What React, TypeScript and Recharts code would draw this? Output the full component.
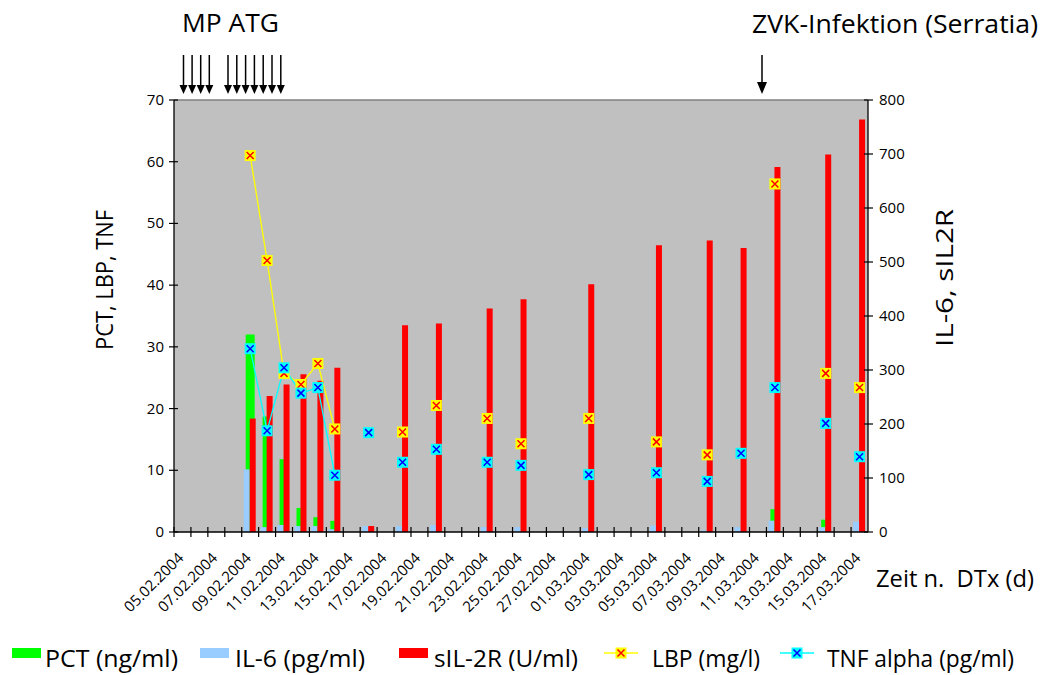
import React from 'react';
import { ComposedChart, Bar, Line, XAxis, YAxis, CartesianGrid, ReferenceLine } from 'recharts';

const dates = [
  '05.02.2004', '06.02.2004', '07.02.2004', '08.02.2004', '09.02.2004', '10.02.2004', '11.02.2004', '12.02.2004', '13.02.2004', '14.02.2004',
  '15.02.2004', '16.02.2004', '17.02.2004', '18.02.2004', '19.02.2004', '20.02.2004', '21.02.2004', '22.02.2004', '23.02.2004', '24.02.2004',
  '25.02.2004', '26.02.2004', '27.02.2004', '28.02.2004', '01.03.2004', '02.03.2004', '03.03.2004', '04.03.2004', '05.03.2004', '06.03.2004',
  '07.03.2004', '08.03.2004', '09.03.2004', '10.03.2004', '11.03.2004', '12.03.2004', '13.03.2004', '14.03.2004', '15.03.2004', '16.03.2004',
  '17.03.2004',
];

// PCT (ng/ml) – left axis
const pct = [
  null, null, null, null, 32, 18.7, 11.8, 3.9, 2.4, 1.8,
  null, null, null, null, null, null, null, null, null, null,
  null, null, null, null, 0.4, null, null, null, null, null,
  null, null, null, null, null, 3.7, null, null, 2.0, null,
  null,
];

// IL-6 (pg/ml) – right axis
const il6 = [
  null, null, null, null, 116, 9, 13, 11, 11, 5,
  null, 11, null, 11, null, 13, null, null, 9, null,
  9, null, null, null, 7, null, null, null, 12, null,
  null, 3, null, 9, null, 21, null, null, 9, null,
  19,
];

// sIL-2R (U/ml) – right axis
const sil2r = [
  null, null, null, null, 210, 252, 273, 292, 280, 304,
  null, 11, null, 383, null, 386, null, null, 414, null,
  431, null, null, null, 459, null, null, null, 531, null,
  null, 540, null, 526, null, 676, null, null, 699, null,
  764,
];

// LBP (mg/l) – left axis
const lbp = [
  null, null, null, null, 61, 44, 25.7, 23.9, 27.3, 16.7,
  null, null, null, 16.2, null, 20.5, null, null, 18.4, null,
  14.3, null, null, null, 18.4, null, null, null, 14.6, null,
  null, 12.5, null, null, null, 56.4, null, null, 25.7, null,
  23.4,
];

// TNF alpha (pg/ml) – left axis
const tnf = [
  null, null, null, null, 29.7, 16.4, 26.6, 22.5, 23.4, 9.2,
  null, 16.1, null, 11.3, null, 13.4, null, null, 11.3, null,
  10.8, null, null, null, 9.3, null, null, null, 9.6, null,
  null, 8.2, null, 12.75, null, 23.4, null, null, 17.6, null,
  12.2,
];

const leftTicks = [0, 10, 20, 30, 40, 50, 60, 70];
const rightTicks = [0, 100, 200, 300, 400, 500, 600, 700, 800];

const W = 1044;
const H = 675;
const PLOT_LEFT = 174;
const PLOT_RIGHT = 868;
const PLOT_TOP = 100;
const PLOT_BOTTOM = 532;
const Y_AXIS_W = 60;
const X_AXIS_H = 20;
const FONT = '"Open Sans", sans-serif';

const data = dates.map((d, i) => ({
  date: d,
  pct: pct[i],
  il6: il6[i],
  sil2r: sil2r[i],
  lbp: lbp[i],
  tnf: tnf[i],
}));

const XTick = (props: any) => {
  const { x, index, payload } = props;
  const band = (PLOT_RIGHT - PLOT_LEFT) / dates.length;
  const y0 = PLOT_BOTTOM;
  const tx = x + 2;
  const ty = y0 + 27;
  return (
    <g>
      <line x1={x - band / 2} x2={x - band / 2} y1={y0 - 5} y2={y0 + 5} stroke="#000" strokeWidth={1.2} />
      {index % 2 === 0 ? (
        <text x={tx} y={ty} transform={`rotate(-45 ${tx} ${ty})`} textAnchor="end" fontSize={15} fontFamily={FONT} fill="#000">
          {payload.value}
        </text>
      ) : null}
    </g>
  );
};

const LTick = (props: any) => {
  const { y, payload } = props;
  return (
    <g>
      <line x1={PLOT_LEFT - 5} x2={PLOT_LEFT + 4} y1={y} y2={y} stroke="#000" strokeWidth={1.2} />
      <text x={PLOT_LEFT - 10} y={y} dy={5} textAnchor="end" fontSize={15} fontFamily={FONT} fill="#000">
        {payload.value}
      </text>
    </g>
  );
};

const RTick = (props: any) => {
  const { y, payload } = props;
  return (
    <g>
      <line x1={PLOT_RIGHT - 4} x2={PLOT_RIGHT + 5} y1={y} y2={y} stroke="#000" strokeWidth={1.2} />
      <text x={PLOT_RIGHT + 11} y={y} dy={5} textAnchor="start" fontSize={15} fontFamily={FONT} fill="#000">
        {payload.value}
      </text>
    </g>
  );
};

const Marker = ({ cx, cy, fill, cross }: { cx: number; cy: number; fill: string; cross: string }) => (
  <g>
    <rect x={cx - 5.5} y={cy - 5.5} width={11} height={11} fill={fill} />
    <path
      d={`M${cx - 3.5},${cy - 3.5}L${cx + 3.5},${cy + 3.5}M${cx + 3.5},${cy - 3.5}L${cx - 3.5},${cy + 3.5}`}
      stroke={cross}
      strokeWidth={1.5}
    />
  </g>
);

const makeDot = (fill: string, cross: string) => (props: any) => {
  const { cx, cy, value, index } = props;
  if (value == null || cx == null || cy == null || Number.isNaN(cy)) return <g key={`d${index}`} />;
  return (
    <g key={`d${index}`}>
      <Marker cx={cx} cy={cy} fill={fill} cross={cross} />
    </g>
  );
};

const Arrow = ({ x, y1, y2, hw, hh }: { x: number; y1: number; y2: number; hw: number; hh: number }) => (
  <g>
    <line x1={x} x2={x} y1={y1} y2={y2 - hh + 1} stroke="#000" strokeWidth={1.5} />
    <polygon points={`${x - hw / 2},${y2 - hh} ${x + hw / 2},${y2 - hh} ${x},${y2}`} fill="#000" />
  </g>
);

const mpArrowsX = [183.5, 192.1, 200.7, 209.3, 228, 236.8, 245.6, 254.4, 263.2, 272, 280.8];

const legendItems = [
  { kind: 'rect', color: '#00FF00', x: 12, label: 'PCT (ng/ml)', tx: 45, len: 133 },
  { kind: 'rect', color: '#99CCFF', x: 200, label: 'IL-6 (pg/ml)', tx: 235, len: 130 },
  { kind: 'rect', color: '#FF0000', x: 399, label: 'sIL-2R (U/ml)', tx: 434, len: 144 },
  { kind: 'line', color: '#FFFF00', cross: '#FF0000', x: 604, label: 'LBP (mg/l)', tx: 652, len: 108 },
  { kind: 'line', color: '#00FFFF', cross: '#0000FF', x: 780, label: 'TNF alpha (pg/ml)', tx: 827, len: 187 },
];

export default function App() {
  return (
    <div style={{ position: 'absolute', left: 0, top: 0, width: W, height: H, background: '#fff' }}>
      <ComposedChart
        width={W}
        height={H}
        data={data}
        barGap={0}
        margin={{
          top: PLOT_TOP,
          left: PLOT_LEFT - Y_AXIS_W,
          right: W - PLOT_RIGHT - Y_AXIS_W,
          bottom: H - PLOT_BOTTOM - X_AXIS_H,
        }}
      >
        <CartesianGrid xAxisId="xa" yAxisId="l" fill="#C0C0C0" horizontal={false} vertical={false} stroke="none" />
        <XAxis
          xAxisId="xa"
          dataKey="date"
          height={X_AXIS_H}
          interval={0}
          tickLine={false}
          axisLine={{ stroke: '#000', strokeWidth: 1.3 }}
          tick={<XTick />}
        />
        <XAxis xAxisId="xb" dataKey="date" hide />
        <YAxis
          yAxisId="l"
          orientation="left"
          width={Y_AXIS_W}
          domain={[0, 70]}
          ticks={leftTicks}
          interval={0}
          tickLine={false}
          axisLine={{ stroke: '#000', strokeWidth: 1.3 }}
          tick={<LTick />}
        />
        <YAxis
          yAxisId="r"
          orientation="right"
          width={Y_AXIS_W}
          domain={[0, 800]}
          ticks={rightTicks}
          interval={0}
          tickLine={false}
          axisLine={{ stroke: '#000', strokeWidth: 1.3 }}
          tick={<RTick />}
        />
        <ReferenceLine xAxisId="xa" yAxisId="l" y={70} stroke="#808080" strokeWidth={1.5} />
        <Bar xAxisId="xb" yAxisId="l" dataKey="pct" name="PCT (ng/ml)" fill="#00FF00" barSize={9} isAnimationActive={false} />
        <Bar xAxisId="xa" yAxisId="r" dataKey="il6" name="IL-6 (pg/ml)" fill="#99CCFF" barSize={6} isAnimationActive={false} />
        <Bar xAxisId="xa" yAxisId="r" dataKey="sil2r" name="sIL-2R (U/ml)" fill="#FF0000" barSize={6} isAnimationActive={false} />
        <Line
          xAxisId="xa"
          yAxisId="l"
          type="linear"
          dataKey="lbp"
          name="LBP (mg/l)"
          stroke="#FFFF00"
          strokeWidth={1.3}
          connectNulls={false}
          dot={makeDot('#FFFF00', '#FF0000')}
          activeDot={false}
          isAnimationActive={false}
        />
        <Line
          xAxisId="xa"
          yAxisId="l"
          type="linear"
          dataKey="tnf"
          name="TNF alpha (pg/ml)"
          stroke="#00FFFF"
          strokeWidth={1.3}
          connectNulls={false}
          dot={makeDot('#00FFFF', '#0000FF')}
          activeDot={false}
          isAnimationActive={false}
        />
      </ComposedChart>
      <svg
        width={W}
        height={H}
        style={{ position: 'absolute', left: 0, top: 0, pointerEvents: 'none' }}
        fontFamily={FONT}
      >
        <text x={182} y={32} fontSize={25} textLength={97} lengthAdjust="spacingAndGlyphs" fill="#000">MP ATG</text>
        <text x={752} y={33} fontSize={25} textLength={286} lengthAdjust="spacingAndGlyphs" fill="#000">ZVK-Infektion (Serratia)</text>
        {mpArrowsX.map((x) => (
          <Arrow key={x} x={x} y1={55} y2={94} hw={8} hh={9} />
        ))}
        <Arrow x={762} y1={55} y2={94} hw={10} hh={12} />
        <text
          x={113}
          y={280}
          transform="rotate(-90 113 280)"
          textAnchor="middle"
          fontSize={24}
          textLength={140}
          lengthAdjust="spacingAndGlyphs"
          fill="#000"
        >
          PCT, LBP, TNF
        </text>
        <text
          x={953}
          y={278}
          transform="rotate(-90 953 278)"
          textAnchor="middle"
          fontSize={24}
          textLength={138}
          lengthAdjust="spacingAndGlyphs"
          fill="#000"
        >
          IL-6, sIL2R
        </text>
        <text x={876} y={587} fontSize={24} textLength={158} lengthAdjust="spacingAndGlyphs" fill="#000" style={{ whiteSpace: 'pre' }}>
          {'Zeit n.  DTx (d)'}
        </text>
        {legendItems.map((it) => (
          <g key={it.label}>
            {it.kind === 'rect' ? (
              <rect x={it.x} y={648} width={29} height={10} fill={it.color} />
            ) : (
              <g>
                <line x1={it.x} x2={it.x + 34} y1={653} y2={653} stroke={it.color} strokeWidth={1.5} />
                <Marker cx={it.x + 17} cy={653} fill={it.color} cross={(it as any).cross} />
              </g>
            )}
            <text x={it.tx} y={667} fontSize={24} textLength={it.len} lengthAdjust="spacingAndGlyphs" fill="#000">
              {it.label}
            </text>
          </g>
        ))}
      </svg>
    </div>
  );
}
